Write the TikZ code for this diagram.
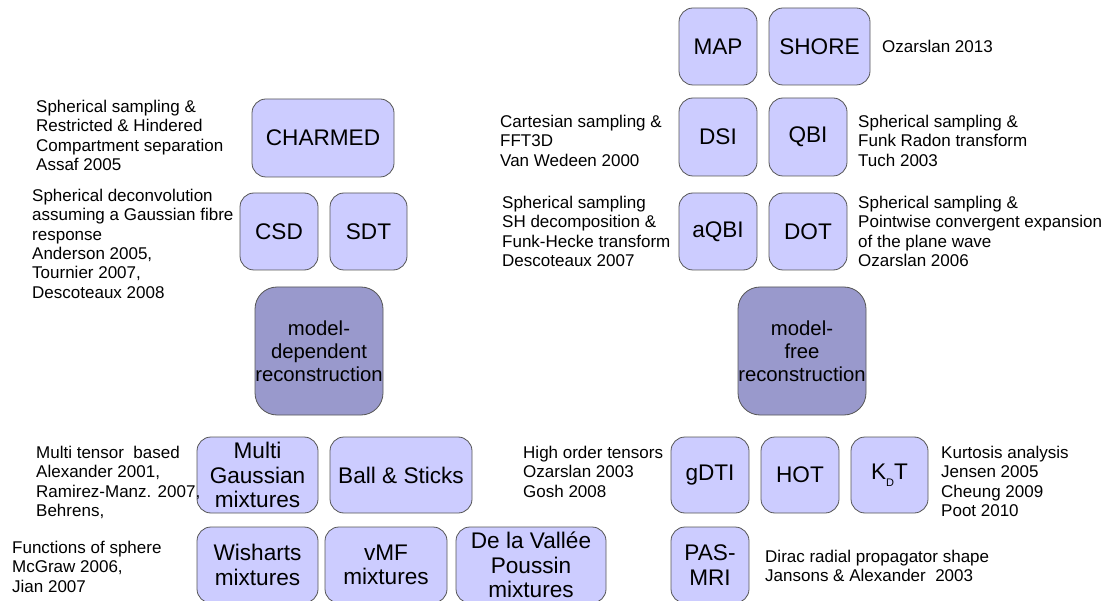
\documentclass[tikz,border=0pt]{standalone}
\usepackage{fontspec}
\setmainfont{Liberation Sans}
\definecolor{boxfill}{HTML}{CCCCFF}
\definecolor{bigfill}{HTML}{9999CC}
\definecolor{boxline}{HTML}{555555}
\begin{document}
\begin{tikzpicture}[x=1pt,y=-1pt,
  box/.style={draw=boxline, fill=boxfill, rounded corners=14pt, line width=0.8pt,
    inner sep=0pt, align=center, font=\fontsize{22.6}{24.5}\selectfont},
  bigbox/.style={box, fill=bigfill, rounded corners=22pt, minimum width=128pt, minimum height=128pt,
    font=\fontsize{20.3}{23}\selectfont},
  lbl/.style={anchor=north west, inner sep=0pt, align=left, font=\fontsize{17}{19.3}\selectfont}]
\useasboundingbox (0,0) rectangle (1113,601);
\clip (0,0) rectangle (1113,601);
% model-free side
\node[box, minimum width=78pt, minimum height=77pt] (map) at (718,46.5) {MAP};
\node[box, minimum width=101pt, minimum height=77pt] (shore) at (819.5,46.5) {SHORE};
\node[box, minimum width=78pt, minimum height=78pt] (dsi) at (718,137) {DSI};
\node[box, minimum width=78pt, minimum height=78pt] (qbi) at (808,137) {QBI};
\node[box, minimum width=78pt, minimum height=77pt] (aqbi) at (718,231.5) {aQBI};
\node[box, minimum width=78pt, minimum height=77pt] (dot) at (808,231.5) {DOT};
\node[bigbox] (mfree) at (802,351) {model-\\free\\reconstruction};
\node[box, minimum width=78pt, minimum height=76pt] (gdti) at (710,475) {gDTI};
\node[box, minimum width=78pt, minimum height=76pt] (hot) at (800,475) {HOT};
\node[box, minimum width=77pt, minimum height=76pt] (kdt) at (889.5,475) {K\raisebox{-7pt}{\fontsize{11}{12}\selectfont D}T};
\node[box, minimum width=78pt, minimum height=76pt] (pas) at (710,565) {PAS-\\MRI};
% model-dependent side
\node[box, minimum width=142pt, minimum height=78pt] (charmed) at (323,138) {CHARMED};
\node[box, minimum width=78pt, minimum height=77pt] (csd) at (279,231.5) {CSD};
\node[box, minimum width=77pt, minimum height=77pt] (sdt) at (368.5,231.5) {SDT};
\node[bigbox] (mdep) at (319,351) {model-\\dependent\\reconstruction};
\node[box, minimum width=121pt, minimum height=76pt] (mgm) at (257.5,475) {Multi\\Gaussian\\mixtures};
\node[box, minimum width=142pt, minimum height=76pt] (bs) at (401,475) {Ball \& Sticks};
\node[box, minimum width=121pt, minimum height=76pt] (wis) at (257.5,565) {Wisharts\\mixtures};
\node[box, minimum width=122pt, minimum height=76pt] (vmf) at (386,565) {vMF\\mixtures};
\node[box, minimum width=150pt, minimum height=76pt] (dlvp) at (531,565) {De la Vallée\\Poussin\\mixtures};
% labels
\node[lbl] (l1) at (882,40) {Ozarslan 2013};
\node[lbl] (l2) at (36,100) {Spherical sampling \&\\Restricted \& Hindered\\Compartment separation\\Assaf 2005};
\node[lbl] (l3) at (32,189) {Spherical deconvolution\\assuming a Gaussian fibre\\response\\Anderson 2005,\\Tournier 2007,\\Descoteaux 2008};
\node[lbl] (l4) at (500,115) {Cartesian sampling \&\\FFT3D\\Van Wedeen 2000};
\node[lbl] (l5) at (858,115) {Spherical sampling \&\\Funk Radon transform\\Tuch 2003};
\node[lbl] (l6) at (502,196) {Spherical sampling\\SH decomposition \&\\Funk-Hecke transform\\Descoteaux 2007};
\node[lbl] (l7) at (858,196) {Spherical sampling \&\\Pointwise convergent expansion\\of the plane wave\\Ozarslan 2006};
\node[lbl] (l8) at (36,446) {Multi tensor\ \ based\\Alexander 2001,\\Ramirez-Manz. 2007,\\Behrens,};
\node[lbl] (l9) at (523,446) {High order tensors\\Ozarslan 2003\\Gosh 2008};
\node[lbl] (l10) at (941,446) {Kurtosis analysis\\Jensen 2005\\Cheung 2009\\Poot 2010};
\node[lbl] (l11) at (12,541) {Functions of sphere\\McGraw 2006,\\Jian 2007};
\node[lbl] (l12) at (765,550) {Dirac radial propagator shape\\Jansons \& Alexander\ \ 2003};
\end{tikzpicture}
\end{document}
